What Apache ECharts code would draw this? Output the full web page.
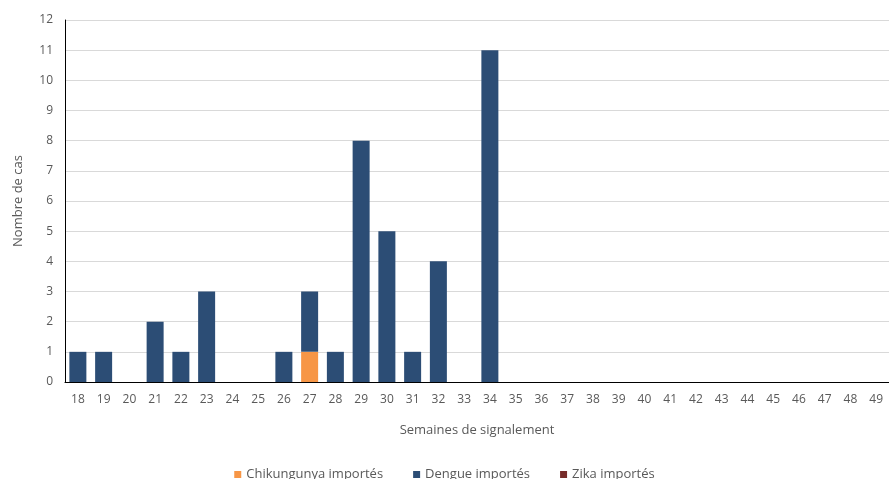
<!DOCTYPE html>
<html><head><meta charset="utf-8">
<script src="https://cdn.jsdelivr.net/npm/echarts@6/dist/echarts.min.js"></script>
<style>html,body{margin:0;padding:0;background:#fff}#c{width:889px;height:479px}</style>
</head><body><div id="c"></div>
<script>
const weeks = ['18','19','20','21','22','23','24','25','26','27','28','29','30','31','32','33','34','35','36','37','38','39','40','41','42','43','44','45','46','47','48','49'];
const chikungunya = [0,0,0,0,0,0,0,0,0,1,0,0,0,0,0,0,0,0,0,0,0,0,0,0,0,0,0,0,0,0,0,0];
const dengue =      [1,1,0,2,1,3,0,0,1,2,1,8,5,1,4,0,11,0,0,0,0,0,0,0,0,0,0,0,0,0,0,0];
const zika =        [0,0,0,0,0,0,0,0,0,0,0,0,0,0,0,0,0,0,0,0,0,0,0,0,0,0,0,0,0,0,0,0];
const yTicks = {min:0,max:12,interval:1};
const font = 'Open Sans';
const chart = echarts.init(document.getElementById('c'));
chart.setOption({
  animation:false,
  textStyle:{fontFamily:font,color:'#595959'},
  grid:{left:65,top:20,width:826,height:362,containLabel:false},
  legend:{top:463,left:'center',itemWidth:7,itemHeight:7,itemGap:30,icon:'rect',
    textStyle:{fontFamily:font,fontSize:13,color:'#595959'},
    data:['Chikungunya importés','Dengue importés','Zika importés']},
  xAxis:{type:'category',data:weeks,name:'Semaines de signalement',nameLocation:'middle',nameGap:42,
    nameTextStyle:{fontSize:13,color:'#595959',fontFamily:font},
    axisLine:{lineStyle:{color:'#000',width:1}},axisTick:{show:false},
    axisLabel:{color:'#595959',fontSize:12,margin:12}},
  yAxis:{type:'value',min:yTicks.min,max:yTicks.max,interval:yTicks.interval,name:'Nombre de cas',nameLocation:'middle',nameGap:40,
    nameTextStyle:{fontSize:13,color:'#595959',fontFamily:font},
    axisLine:{show:true,lineStyle:{color:'#000',width:1}},axisTick:{show:false},
    axisLabel:{color:'#595959',fontSize:12,margin:12},
    splitLine:{lineStyle:{color:'#d9d9d9'}}},
  series:[
    {name:'Chikungunya importés',type:'bar',stack:'a',data:chikungunya,barWidth:17,itemStyle:{color:'#F79646'}},
    {name:'Dengue importés',type:'bar',stack:'a',data:dengue,barWidth:17,itemStyle:{color:'#2C4D75'}},
    {name:'Zika importés',type:'bar',stack:'a',data:zika,barWidth:17,itemStyle:{color:'#772C2A'}}
  ]
});
</script></body></html>
